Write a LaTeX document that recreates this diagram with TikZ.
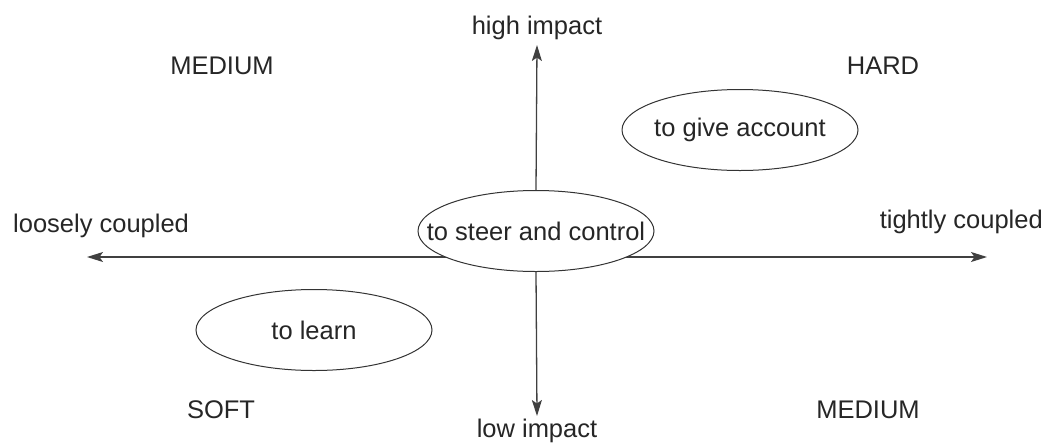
\documentclass[tikz,border=0pt]{standalone}
\usepackage{fontspec}
\setmainfont{Liberation Sans}
\usetikzlibrary{arrows.meta,shapes.geometric}
\begin{document}
\begin{tikzpicture}[x=1pt,y=-1pt,
  tip/.tip={Stealth[length=16pt,width=10pt,inset=3.5pt]},
  axis/.style={draw=black!75,line width=1.3pt,-tip},
  goal/.style={ellipse,draw=black!80,line width=1pt,fill=white,minimum width=236pt,minimum height=81pt,inner sep=-30pt,font=\fontsize{25.5}{30}\selectfont,text=black!85},
  lbl/.style={font=\fontsize{25.5}{30}\selectfont,text=black!85,inner sep=0pt}]
\useasboundingbox (0,0) rectangle (1047,445);
\coordinate (L) at (87,257);
\coordinate (R) at (987,257);
\coordinate (T) at (537,45);
\coordinate (B) at (537,416);
\draw[axis,tip-tip] (L) -- (R);
\node[goal] (steer) at (536,231) {to steer and control};
\node[goal] (give) at (740,130) {to give account};
\node[goal] (learn) at (314,330) {to learn};
\draw[axis] (steer.north) -- (T);
\draw[axis] (steer.south) -- (B);
\node[lbl] (hi) at (537,28) {high impact};
\node[lbl] (lo) at (537,431) {low impact};
\node[lbl,anchor=west] (loose) at (13,226) {loosely coupled};
\node[lbl,anchor=east] (tight) at (1043,222) {tightly coupled};
\node[lbl] (m1) at (222,66) {MEDIUM};
\node[lbl] (hard) at (883,66) {HARD};
\node[lbl] (soft) at (221,410) {SOFT};
\node[lbl] (m2) at (868,410) {MEDIUM};
\end{tikzpicture}
\end{document}
